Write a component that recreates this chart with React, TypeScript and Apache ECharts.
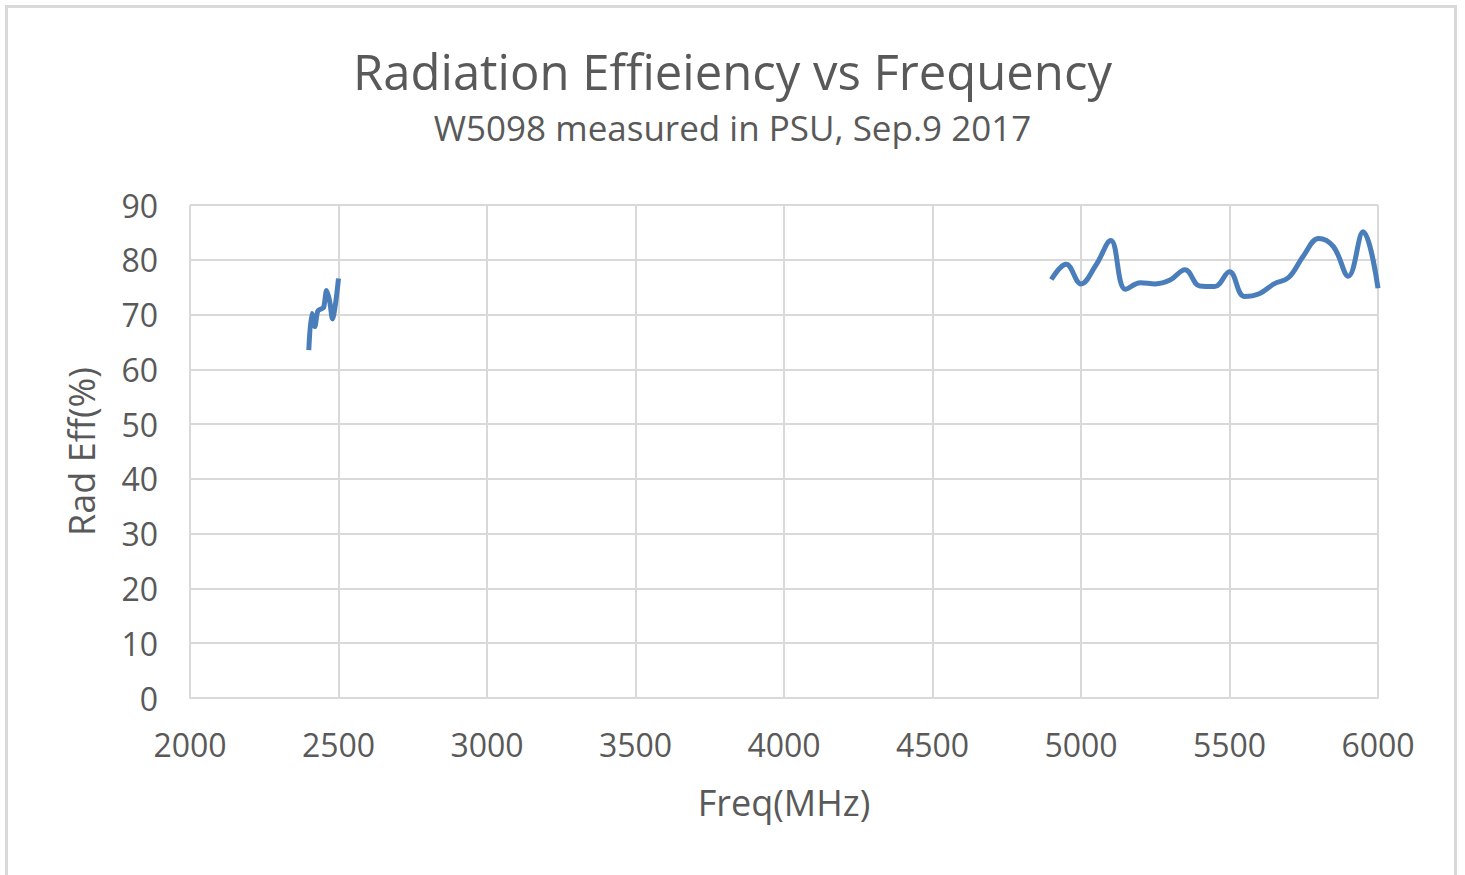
import React, { useEffect, useRef } from "react";
import * as echarts from "echarts";

const freq24 = [2400, 2410, 2420, 2430, 2440, 2450, 2460, 2470, 2480, 2490, 2500];
const eff24 = [63.5, 70.2, 67.8, 70.6, 71.0, 71.3, 74.4, 72.5, 69.2, 72.0, 76.6];

const freq5 = [4900, 4950, 5000, 5050, 5100, 5150, 5200, 5250, 5300, 5350, 5400, 5450, 5500, 5550, 5600, 5650, 5700, 5750, 5800, 5850, 5900, 5950, 6000];
const eff5 = [76.4, 79.2, 75.6, 79.0, 83.5, 74.6, 75.8, 75.6, 76.3, 78.2, 75.2, 75.1, 77.8, 73.3, 73.8, 75.6, 76.8, 80.8, 83.9, 82.4, 77.0, 85.1, 74.8];

const titleText = "Radiation Effieiency vs Frequency";
const subtitleText = "W5098 measured in PSU, Sep.9 2017";
const xName = "Freq(MHz)";
const yName = "Rad Eff(%)";

export default function App() {
  const ref = useRef<HTMLDivElement>(null);
  useEffect(() => {
    const chart = echarts.init(ref.current!, null, { renderer: "svg" });
    const font = "Open Sans, Noto Sans, sans-serif";
    const textColor = "#595959";
    chart.setOption({
      animation: false,
      backgroundColor: "#ffffff",
      title: {
        text: titleText,
        subtext: subtitleText,
        left: "center",
        top: 41,
        itemGap: 15,
        textStyle: { fontFamily: font, fontSize: 49, fontWeight: "normal", color: textColor },
        subtextStyle: { fontFamily: font, fontSize: 35, color: textColor },
      },
      graphic: [
        {
          type: "rect",
          shape: { x: 6.5, y: 6.5, width: 1449, height: 885 },
          style: { fill: "none", stroke: "#d9d9d9", lineWidth: 3 },
          silent: true,
        },
      ],
      grid: { left: 190, right: 87, top: 205, bottom: 177 },
      xAxis: {
        type: "value",
        min: 2000,
        max: 6000,
        interval: 500,
        name: xName,
        nameLocation: "middle",
        nameGap: 86,
        nameTextStyle: { fontFamily: font, fontSize: 36, color: textColor },
        axisLine: { show: true, lineStyle: { color: "#d9d9d9", width: 2 } },
        axisTick: { show: false },
        axisLabel: { fontFamily: font, fontSize: 32, color: textColor, margin: 30, formatter: (v: number) => String(v) },
        splitLine: { show: true, lineStyle: { color: "#d9d9d9", width: 2 } },
      },
      yAxis: {
        type: "value",
        min: 0,
        max: 90,
        interval: 10,
        name: yName,
        nameLocation: "middle",
        nameGap: 91,
        nameTextStyle: { fontFamily: font, fontSize: 36, color: textColor },
        axisLine: { show: false },
        axisTick: { show: false },
        axisLabel: { fontFamily: font, fontSize: 32, color: textColor, margin: 32 },
        splitLine: { show: true, lineStyle: { color: "#d9d9d9", width: 2 } },
      },
      series: [
        {
          type: "line",
          data: freq24.map((f, i) => [f, eff24[i]]),
          smooth: 0.3,
          showSymbol: false,
          lineStyle: { color: "#4a7ebb", width: 5 },
        },
        {
          type: "line",
          data: freq5.map((f, i) => [f, eff5[i]]),
          smooth: 0.4,
          showSymbol: false,
          lineStyle: { color: "#4a7ebb", width: 5 },
        },
      ],
    });
    return () => chart.dispose();
  }, []);
  return (
    <div
      ref={ref}
      style={{ position: "fixed", left: 0, top: 0, width: 1465, height: 875 }}
    />
  );
}
